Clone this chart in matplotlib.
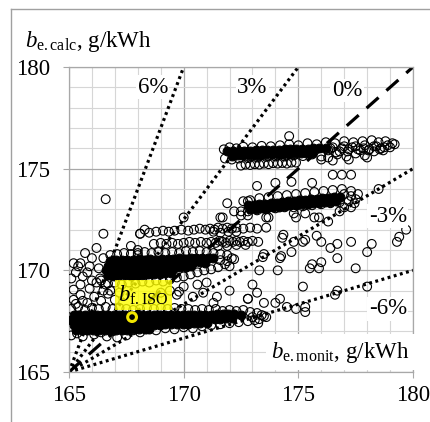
import numpy as np
import matplotlib
matplotlib.use("Agg")
import matplotlib.pyplot as plt
from matplotlib.lines import Line2D

plt.rcParams['font.family'] = ['Liberation Serif', 'DejaVu Serif']
plt.rcParams['mathtext.fontset'] = 'custom'
plt.rcParams['mathtext.rm'] = 'Liberation Serif'
plt.rcParams['mathtext.it'] = 'Liberation Serif:italic'

# reference lines: all start at (165, 165)
line_labels = ['6%', '3%', '0%', '-3%', '-6%']
line_end_x = [170, 175, 180, 180, 180]
line_end_y = [180, 180, 180, 175, 170]

# dense cores of the clusters (overlapping circles -> solid black)
core_x = [
    # top band
    171.9, 172.15, 172.4, 172.65, 172.9, 173.15, 173.4, 173.65, 173.9, 174.15, 174.4, 174.65,
    174.9, 175.15, 175.4, 175.65, 175.9, 176.2,
    172.1, 172.35, 172.6, 172.85, 173.1, 173.35, 173.6, 173.85, 174.1, 174.35, 174.6, 174.85,
    175.1, 175.35, 175.6,
    # band at 173
    172.8, 173.05, 173.3, 173.55, 173.8, 174.05, 174.3, 174.55, 174.8, 175.05, 175.3, 175.55,
    175.8, 176.05, 176.3, 176.55, 176.8,
    172.9, 173.15, 173.4, 173.65, 173.9, 174.15, 174.4, 174.65, 174.9, 175.15, 175.4, 175.65,
    175.9, 176.15, 176.4, 176.65,
    # band at 170
    166.8, 167.05, 167.3, 167.55, 167.8, 168.05, 168.3, 168.55, 168.8, 169.05, 169.3, 169.55,
    169.8, 170.05, 170.3, 170.55, 170.8, 171.05, 171.3,
    166.7, 166.95, 167.2, 167.45, 167.7, 167.95, 168.2, 168.45, 168.7, 168.95, 169.2, 169.45,
    169.7, 169.95, 170.2, 170.45, 170.7, 170.95,
    166.6, 166.85, 167.1, 167.35, 167.6, 167.85, 168.1, 168.35, 168.6, 168.85, 169.1, 169.35,
    169.6, 169.85, 170.1, 170.3,
    166.7, 166.95, 167.2, 167.45, 167.7, 167.95, 168.2, 168.45, 168.7, 168.95, 169.2, 169.45,
    # bottom band
    165.2, 165.45, 165.7, 165.95, 166.2, 166.45, 166.7, 166.95, 167.2, 167.45, 167.7, 167.95,
    168.2, 168.45, 168.7, 168.95, 169.2, 169.45, 169.7, 169.95, 170.2, 170.45, 170.7, 170.95,
    171.2, 171.45, 171.7, 171.95, 172.2, 172.5,
    165.1, 165.35, 165.6, 165.85, 166.1, 166.35, 166.6, 166.85, 167.1, 167.35, 167.6, 167.85,
    168.1, 168.35, 168.6, 168.85, 169.1, 169.35, 169.6, 169.85, 170.1, 170.35, 170.6, 170.85,
    171.1, 171.35, 171.6, 171.85, 172.1,
    165.2, 165.45, 165.7, 165.95, 166.2, 166.45, 166.7, 166.95, 167.2, 167.45, 167.7, 167.95,
    168.2, 168.45, 168.7, 168.95, 169.2, 169.45, 169.7, 169.95, 170.2, 170.45, 170.7, 171.0,
    165.3, 165.55, 165.8, 166.05, 166.3, 166.55, 166.8, 167.05, 167.3, 167.55, 167.8, 168.05,
    168.3, 168.5,
]
core_y = [
    175.85, 175.86, 175.87, 175.88, 175.89, 175.9, 175.91, 175.92, 175.93, 175.94, 175.95, 175.96,
    175.97, 175.98, 175.99, 176.0, 176.01, 176.03,
    175.64, 175.65, 175.66, 175.67, 175.68, 175.69, 175.7, 175.71, 175.72, 175.73, 175.74, 175.75,
    175.76, 175.77, 175.78,
    173.2, 173.23, 173.25, 173.28, 173.31, 173.33, 173.36, 173.39, 173.41, 173.44, 173.47, 173.49,
    173.52, 173.55, 173.57, 173.6, 173.63,
    173.0, 173.03, 173.05, 173.08, 173.11, 173.13, 173.16, 173.19, 173.21, 173.24, 173.27, 173.29,
    173.32, 173.35, 173.37, 173.4,
    170.45, 170.5, 170.5, 170.5, 170.5, 170.55, 170.5, 170.55, 170.5, 170.55, 170.55, 170.55,
    170.6, 170.55, 170.6, 170.6, 170.6, 170.6, 170.6,
    170.2, 170.25, 170.25, 170.2, 170.25, 170.25, 170.25, 170.3, 170.25, 170.3, 170.3, 170.3,
    170.35, 170.35, 170.35, 170.4, 170.4, 170.35,
    170.0, 169.95, 170.0, 170.0, 169.95, 170.0, 170.0, 170.0, 170.05, 170.05, 170.05, 170.1,
    170.1, 170.15, 170.15, 170.2,
    169.75, 169.7, 169.75, 169.75, 169.7, 169.75, 169.75, 169.8, 169.8, 169.8, 169.85, 169.85,
    167.8, 167.8, 167.8, 167.8, 167.8, 167.8, 167.8, 167.8, 167.8, 167.8, 167.8, 167.8,
    167.8, 167.8, 167.8, 167.8, 167.8, 167.8, 167.8, 167.8, 167.8, 167.8, 167.8, 167.8,
    167.8, 167.85, 167.85, 167.85, 167.85, 167.8,
    167.55, 167.55, 167.55, 167.55, 167.55, 167.55, 167.55, 167.55, 167.55, 167.55, 167.55, 167.55,
    167.55, 167.55, 167.55, 167.55, 167.55, 167.55, 167.55, 167.55, 167.55, 167.55, 167.6, 167.6,
    167.6, 167.6, 167.6, 167.65, 167.65,
    167.3, 167.3, 167.3, 167.3, 167.3, 167.3, 167.3, 167.3, 167.3, 167.3, 167.3, 167.3,
    167.3, 167.3, 167.3, 167.3, 167.35, 167.35, 167.35, 167.35, 167.35, 167.4, 167.4, 167.4,
    167.05, 167.05, 167.05, 167.05, 167.05, 167.05, 167.05, 167.05, 167.05, 167.05, 167.1, 167.1,
    167.1, 167.1,
]

# individual circles (cluster edges and scattered points)
ring_x = [
    # top band edges
    171.75, 172.0, 172.3, 172.6, 173.0, 173.4, 173.8, 174.2, 174.6, 175.0, 175.4, 175.8, 176.2,
    176.6, 177.0, 177.4, 177.8, 178.2, 178.5, 178.8, 179.1,
    171.8, 172.1, 172.4, 172.8, 173.2, 173.6, 174.0, 174.4, 174.8, 175.2, 175.6, 176.0, 176.3,
    176.7, 177.1, 177.5, 177.9, 178.3, 178.7, 179.0,
    176.3, 176.5, 176.8, 177.0, 177.2, 177.5, 177.7, 177.9, 178.1, 178.4, 178.6, 178.9, 179.2,
    176.4, 176.65, 176.9, 177.15, 177.35, 177.6, 177.85, 178.05, 178.3, 178.55, 178.75,
    172.5, 172.7, 172.9, 173.1, 173.3, 173.5, 173.7, 173.9, 174.1, 174.3, 174.5, 174.7, 174.9,
    176.0, 176.5, 177.2, 178.0, 174.6,
    # band at 173 edges
    172.6, 172.9, 173.3, 173.7, 174.1, 174.5, 174.9, 175.3, 175.7, 176.1, 176.5, 176.9, 177.3,
    172.5, 172.8, 173.2, 173.6, 174.0, 174.4, 174.8, 175.2, 175.6, 176.0, 176.4, 176.8, 177.2,
    177.5, 177.0, 177.3, 177.6, 177.45,
    # band at 170 edges
    166.5, 166.8, 167.1, 167.4, 167.7, 168.0, 168.3, 168.6, 168.9, 169.2, 169.5, 169.8, 170.1,
    170.4, 170.7, 171.0, 171.3, 171.6, 171.9, 172.1,
    166.4, 166.7, 167.0, 167.3, 167.6, 167.9, 168.2, 168.5, 168.8, 169.1, 169.4, 169.7, 170.0,
    170.3, 170.6, 170.9, 171.2, 171.5, 171.8,
    171.6, 171.9, 172.2, 172.0,
    165.2, 165.5, 165.4, 165.3, 165.6, 165.8, 166.0, 166.2, 166.35, 166.6, 166.8, 165.7, 166.2,
    166.0, 165.9, 166.3, 165.1, 165.5, 165.2,
    167.7, 168.0, 168.0, 168.1, 166.5,
    # rows at 172 and 171.4
    168.1, 168.3, 168.5, 168.8, 169.1, 169.35, 169.6, 169.9, 170.2, 170.45, 170.7, 170.95, 171.15,
    171.35, 171.5, 171.7, 171.9, 172.1, 172.3, 172.6, 172.9, 173.2,
    168.7, 169.0, 169.25, 169.5, 169.75, 170.0, 170.25, 170.5, 170.75, 171.0, 171.2, 171.4, 171.55,
    171.7, 171.85, 172.0, 172.15, 172.3, 172.45, 172.6, 172.8, 173.0, 173.25,
    171.5, 171.9, 172.3, 172.7, 171.3, 171.6, 171.95, 172.3,
    # bottom band edges
    165.1, 165.4, 165.7, 166.0, 166.3, 166.6, 166.9, 167.2, 167.5, 167.8, 168.1, 168.4, 168.7,
    169.0, 169.3, 169.6, 169.9, 170.2, 170.5, 170.8, 171.1, 171.4, 171.7, 172.0, 172.3, 172.6,
    172.9, 173.2, 173.4,
    165.1, 165.35, 165.6, 165.8, 166.1, 166.4, 166.65, 166.9, 167.1, 167.5, 167.8, 168.1, 168.4,
    168.8, 169.2, 169.6, 170.0, 170.4, 170.8, 171.2, 171.6, 172.0, 172.4, 172.8, 173.1, 173.25,
    173.0, 173.3, 173.5,
    165.2, 165.5, 165.8, 166.1, 166.4, 166.7, 167.0, 167.2, 166.5, 165.9, 165.3, 165.6,
    # scattered, middle
    169.4, 169.7, 169.8, 170.4, 170.85, 171.3, 171.45, 172.0, 170.0, 170.6, 171.0, 172.8, 169.0,
    # scattered, right
    172.8, 173.7, 174.8, 175.3, 175.9, 176.3, 173.6, 174.3, 174.35, 174.8, 175.2, 175.3, 175.8,
    176.0, 176.4, 176.7, 177.3, 178.2, 178.0, 179.3, 179.4, 179.7, 173.5, 173.45, 174.2, 174.25,
    174.7, 174.1, 173.3, 175.5, 175.6, 175.9, 176.0, 176.7, 177.5, 173.0, 173.2, 173.5, 174.0,
    174.2, 172.8, 175.2, 174.5, 174.9, 175.3, 175.3, 176.6, 176.7, 178.0, 173.6,
    # scattered, upper
    166.6, 170.0, 171.6, 171.9, 172.2, 172.5, 172.8, 173.2, 174.0, 174.7, 175.6, 176.5, 176.9,
    177.3, 178.5, 173.6, 174.9, 175.7, 176.8, 177.0, 177.3, 171.7,
]
ring_y = [
    175.95, 176.05, 176.0, 176.08, 176.05, 176.12, 176.1, 176.15, 176.2, 176.15, 176.25, 176.2, 176.3,
    176.25, 176.35, 176.3, 176.35, 176.4, 176.3, 176.35, 176.25,
    175.5, 175.45, 175.5, 175.52, 175.55, 175.58, 175.6, 175.6, 175.65, 175.62, 175.7, 175.6, 175.55,
    175.7, 175.6, 175.75, 175.65, 175.85, 175.9, 176.05,
    175.9, 176.05, 175.85, 176.1, 175.95, 176.1, 175.9, 176.15, 175.95, 176.1, 176.0, 176.15, 176.2,
    176.0, 175.8, 176.0, 175.85, 176.05, 175.95, 176.0, 175.9, 176.1, 175.95, 176.05,
    175.15, 175.2, 175.18, 175.22, 175.2, 175.25, 175.22, 175.27, 175.25, 175.28, 175.25, 175.3, 175.3,
    175.45, 175.4, 175.45, 175.55, 176.6,
    173.4, 173.45, 173.55, 173.6, 173.65, 173.7, 173.75, 173.8, 173.85, 173.9, 173.95, 174.0, 173.9,
    172.9, 172.9, 172.95, 173.0, 173.05, 173.1, 173.1, 173.15, 173.2, 173.25, 173.3, 173.35, 173.4,
    173.5, 173.75, 173.65, 173.75, 173.3,
    170.6, 170.75, 170.8, 170.85, 170.8, 170.85, 170.9, 170.85, 170.9, 170.85, 170.9, 170.85, 170.95,
    170.9, 170.95, 170.9, 170.85, 170.8, 170.75, 170.6,
    169.5, 169.35, 169.4, 169.3, 169.4, 169.35, 169.45, 169.4, 169.5, 169.45, 169.55, 169.65, 169.7,
    169.8, 169.9, 170.0, 170.05, 170.15, 170.3,
    170.5, 170.45, 170.55, 170.2,
    170.35, 170.35, 170.2, 169.9, 169.7, 169.9, 169.5, 169.4, 169.6, 169.3, 169.0, 170.85, 171.1,
    170.6, 170.2, 170.1, 169.6, 169.3, 169.05,
    171.2, 171.0, 170.75, 171.8, 171.8,
    171.8, 172.0, 171.85, 171.9, 171.95, 171.9, 171.95, 172.0, 171.95, 172.0, 172.05, 172.0, 172.05,
    172.0, 172.1, 172.05, 172.1, 172.05, 172.1, 172.05, 172.1, 172.05,
    171.3, 171.35, 171.3, 171.35, 171.3, 171.35, 171.4, 171.35, 171.4, 171.35, 171.4, 171.35, 171.45,
    171.4, 171.35, 171.45, 171.4, 171.45, 171.4, 171.45, 171.4, 171.45, 171.4,
    171.2, 171.2, 171.25, 171.25, 171.9, 171.85, 171.9, 171.9,
    168.1, 168.2, 168.05, 168.15, 168.1, 168.2, 168.1, 168.15, 168.1, 168.05, 168.1, 168.15, 168.1,
    168.15, 168.1, 168.15, 168.1, 168.1, 168.05, 168.1, 168.05, 168.1, 168.0, 168.05, 168.0, 168.05,
    167.95, 167.9, 167.8,
    166.8, 166.9, 166.75, 167.05, 166.85, 166.95, 166.75, 167.0, 166.7, 166.8, 167.05, 166.95, 167.1,
    167.05, 167.15, 167.1, 167.2, 167.15, 167.25, 167.3, 167.35, 167.4, 167.45, 167.5, 167.55, 167.4,
    167.7, 167.6, 167.75,
    168.55, 168.8, 168.4, 168.7, 168.5, 168.85, 168.55, 168.9, 169.0, 169.1, 168.35, 168.5,
    169.0, 168.8, 168.95, 168.7, 168.9, 168.4, 168.7, 169.0, 169.2, 169.3, 169.4, 168.6, 168.9,
    172.7, 172.6, 172.8, 172.8, 172.6, 172.4, 172.1, 171.6, 171.75, 171.4, 171.4, 171.5, 171.7,
    171.4, 171.1, 171.3, 171.4, 171.3, 170.9, 171.4, 171.65, 172.0, 170.8, 170.65, 170.6, 170.7,
    170.9, 170.0, 170.0, 170.1, 170.3, 170.1, 170.4, 170.6, 170.1, 169.3, 168.9, 168.4, 168.4,
    168.6, 168.6, 169.2, 168.2, 168.1, 168.2, 167.95, 168.8, 169.0, 169.2, 167.7,
    173.5, 172.6, 172.6, 173.3, 172.9, 172.7, 173.4, 174.15, 174.3, 174.35, 174.3, 174.7, 174.7,
    174.7, 174.0, 172.6, 172.6, 172.6, 172.9, 173.1, 173.1, 172.6,
]

# b_f.ISO point
iso_x = [167.75]
iso_y = [167.7]

fig = plt.figure(figsize=(4.3, 4.22), dpi=100)
ax = fig.add_axes([69 / 430, 50 / 422, 344 / 430, 305 / 422])

# outer frame (only left and top edges are in view)
fig.add_artist(Line2D([11 / 430, 11 / 430], [0, 1 - 9 / 422], color='#a0a0a0', lw=1))
fig.add_artist(Line2D([11 / 430, 1], [1 - 9 / 422, 1 - 9 / 422], color='#a0a0a0', lw=1))

ax.set_xlim(165, 180)
ax.set_ylim(165, 180)
ax.set_xticks([165, 170, 175, 180])
ax.set_yticks([165, 170, 175, 180])
ax.set_xticks(np.arange(165, 181), minor=True)
ax.set_yticks(np.arange(165, 181), minor=True)
ax.grid(which='minor', color='#d6d6d6', lw=0.8, zorder=0)
ax.grid(which='major', color='#a8a8a8', lw=0.9, zorder=0)
ax.set_axisbelow(True)
for s in ax.spines.values():
    s.set_color('#a8a8a8')
    s.set_linewidth(0.9)
ax.tick_params(which='major', length=4.5, color='#a8a8a8', labelsize=16.5, direction='out')
ax.tick_params(axis='y', pad=9)
ax.tick_params(axis='x', pad=5)
ax.tick_params(which='minor', length=0)

# reference lines
for lab, ex, ey in zip(line_labels, line_end_x, line_end_y):
    if lab == '0%':
        ax.plot([165, ex], [165, ey], color='black', lw=2.3, dashes=(5, 3.3), zorder=2)
    else:
        ax.plot([165, ex], [165, ey], color='black', lw=2.3, dashes=(0.9, 1.1), zorder=2)

ax.scatter(core_x, core_y, s=40, facecolor='black', edgecolor='black', lw=0.8, zorder=3)
ax.scatter(ring_x, ring_y, s=40, facecolor='none', edgecolor='black', lw=0.8, zorder=3)

fs = 16.5
wb = dict(facecolor='white', edgecolor='none', pad=1)
ax.text(168.66, 179.0, '6%', fontsize=fs, ha='center', va='center', bbox=wb, zorder=4)
ax.text(173.0, 179.0, '3%', fontsize=fs, ha='center', va='center', bbox=wb, zorder=4)
ax.text(177.12, 178.85, '0%', fontsize=fs, ha='center', va='center', bbox=wb, zorder=4)
ax.text(178.9, 172.67, '-3%', fontsize=fs, ha='center', va='center', bbox=wb, zorder=4)
ax.text(178.9, 168.1, '-6%', fontsize=fs, ha='center', va='center', bbox=wb, zorder=4)
ax.text(179.85, 165.7, r'$b_{\mathrm{e{.}monit}}$, g/kWh', fontsize=fs, ha='right', va='baseline',
        bbox=dict(facecolor='white', edgecolor='none', pad=4), zorder=4)

ax.scatter(iso_x, iso_y, s=40, facecolor='none', edgecolor='#f2e600', lw=2.2, zorder=5)
ax.text(168.25, 168.79, r'$b_{\mathrm{f{.}ISO}}$', fontsize=fs, ha='center', va='center',
        bbox=dict(facecolor='#ffff00', alpha=0.8, edgecolor='none', pad=2.5), zorder=4)

fig.text(25 / 430, 1 - 47 / 422, r'$b_{\mathrm{e{.}calc}}$, g/kWh', fontsize=fs, ha='left', va='baseline')

fig.savefig('out.png', dpi=100)
